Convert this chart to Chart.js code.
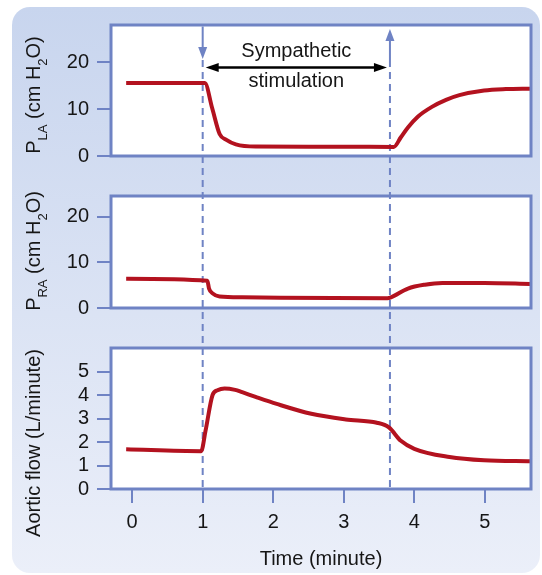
<!DOCTYPE html>
<html lang="en">
<head>
<meta charset="UTF-8">
<title>Sympathetic stimulation</title>
<script src="https://cdn.jsdelivr.net/npm/chart.js"></script>
<style>
  body { margin: 0; background: #fff; }
  .figure { position: relative; width: 542px; height: 575px; overflow: hidden; }
  .figure-bg {
    position: absolute; left: 12px; top: 7px; width: 528px; height: 566px;
    border-radius: 18px;
    background: linear-gradient(#c8d5ee, #ebeff9);
  }
  canvas { position: absolute; left: 0; }
</style>
</head>
<body>
<div class="figure">
  <div class="figure-bg"></div>
  <canvas id="laChart" width="542" height="176" style="top:0px"></canvas>
  <canvas id="raChart" width="542" height="152" style="top:176px"></canvas>
  <canvas id="flowChart" width="542" height="247" style="top:328px"></canvas>
</div>
<script>
// time axis, minutes
const timeMin = -0.3;
const timeMax = 5.655;
const timeTicks = [0, 1, 2, 3, 4, 5];
const stimStart = 1;
const stimEnd = 3.655;

// left atrial pressure (cm H2O)
const laTime   = [-0.085, 1.03, 1.135, 1.24, 1.33, 1.47, 1.75, 2.5, 3.0, 3.71, 3.81, 3.91, 4.05, 4.25, 4.45, 4.64, 4.99, 5.3, 5.65];
const laValues = [15.6, 15.6, 10.2, 4.7, 3.5, 2.5, 2.03, 2.0, 2.0, 1.95, 4.0, 6.1, 8.4, 10.5, 12.0, 13.0, 14.0, 14.3, 14.4];
const laTicks = [0, 10, 20];

// right atrial pressure (cm H2O)
const raTime   = [-0.085, 1.066, 1.09, 1.14, 1.24, 1.56, 3.62, 3.66, 3.91, 4.15, 4.4, 4.99, 5.65];
const raValues = [6.4, 5.96, 4.26, 3.2, 2.5, 2.34, 2.13, 2.26, 4.26, 5.1, 5.46, 5.46, 5.25];
const raTicks = [0, 10, 20];

// aortic flow (L/minute)
const flowTime   = [-0.085, 0.978, 1.04, 1.14, 1.21, 1.31, 1.46, 1.56, 1.75, 2.05, 2.54, 3.03, 3.47, 3.64, 3.81, 4.0, 4.5, 4.99, 5.65];
const flowValues = [1.69, 1.61, 2.47, 4.0, 4.2, 4.28, 4.22, 4.12, 3.92, 3.62, 3.2, 2.96, 2.82, 2.62, 2.05, 1.71, 1.36, 1.22, 1.18];
const flowTicks = [0, 1, 2, 3, 4, 5];

const BLUE = '#6f83c4';
const RED = '#b3121f';
const INK = '#161616';
const FONT = '"Liberation Sans", Arial, sans-serif';
const DASH = [7, 5];

function dashedLine(ctx, x, y0, y1, canvasTop) {
  ctx.save();
  ctx.strokeStyle = BLUE;
  ctx.lineWidth = 2;
  ctx.setLineDash(DASH);
  // keep the dash pattern continuous from one canvas to the next
  ctx.lineDashOffset = (canvasTop + y0) % (DASH[0] + DASH[1]);
  ctx.beginPath();
  ctx.moveTo(x, y0);
  ctx.lineTo(x, y1);
  ctx.stroke();
  ctx.restore();
}

function arrowHead(ctx, x, y, dx, dy, len, half) {
  // tip at (x, y), pointing along (dx, dy)
  ctx.beginPath();
  ctx.moveTo(x, y);
  ctx.lineTo(x - dx * len - dy * half, y - dy * len - dx * half);
  ctx.lineTo(x - dx * len + dy * half, y - dy * len + dx * half);
  ctx.closePath();
  ctx.fill();
}

function rotatedTitle(ctx, parts, x, cy) {
  ctx.save();
  let total = 0;
  parts.forEach(p => {
    ctx.font = (p.sub ? '13px ' : '20px ') + FONT;
    p.w = ctx.measureText(p.text).width;
    total += p.w;
  });
  ctx.translate(x, cy);
  ctx.rotate(-Math.PI / 2);
  ctx.fillStyle = INK;
  ctx.textBaseline = 'alphabetic';
  let pos = -total / 2;
  parts.forEach(p => {
    ctx.font = (p.sub ? '13px ' : '20px ') + FONT;
    ctx.fillText(p.text, pos, p.sub ? 7 : 0);
    pos += p.w;
  });
  ctx.restore();
}

function panelPlugin(cfg) {
  return {
    id: 'panel',
    beforeDraw(chart) {
      const a = chart.chartArea;
      chart.ctx.save();
      chart.ctx.fillStyle = '#fff';
      chart.ctx.fillRect(a.left, a.top, a.right - a.left, a.bottom - a.top);
      chart.ctx.restore();
    },
    beforeDatasetsDraw(chart) {
      const ctx = chart.ctx;
      const xs = chart.scales.x;
      const x1 = xs.getPixelForValue(stimStart);
      const x2 = xs.getPixelForValue(stimEnd);
      const top = cfg.canvasTop;
      const bottom = cfg.lineToArea ? chart.chartArea.bottom : chart.height;
      if (cfg.arrows) {
        const a = chart.chartArea;
        ctx.save();
        ctx.strokeStyle = BLUE;
        ctx.fillStyle = BLUE;
        ctx.lineWidth = 2;
        // stimulation on: arrow pointing down
        ctx.beginPath();
        ctx.moveTo(x1, a.top + 1.5);
        ctx.lineTo(x1, 50);
        ctx.stroke();
        arrowHead(ctx, x1, 59, 0, 1, 12, 4.5);
        // stimulation off: arrow pointing up
        ctx.beginPath();
        ctx.moveTo(x2, 40);
        ctx.lineTo(x2, 67);
        ctx.stroke();
        arrowHead(ctx, x2, 29, 0, -1, 12, 4.5);
        ctx.restore();
        dashedLine(ctx, x1, 60, bottom, top);
        dashedLine(ctx, x2, 67, bottom, top);
      } else {
        dashedLine(ctx, x1, 0, bottom, top);
        dashedLine(ctx, x2, 0, bottom, top);
      }
    },
    afterDatasetsDraw(chart) {
      const ctx = chart.ctx;
      const a = chart.chartArea;
      ctx.save();
      ctx.strokeStyle = BLUE;
      ctx.lineWidth = 3;
      ctx.strokeRect(a.left, a.top, a.right - a.left, a.bottom - a.top);
      ctx.restore();

      rotatedTitle(ctx, cfg.title, 39.5, cfg.titleCenter);

      if (cfg.arrows) {
        const xs = chart.scales.x;
        const x1 = xs.getPixelForValue(stimStart);
        const x2 = xs.getPixelForValue(stimEnd);
        const mid = (x1 + x2) / 2;
        ctx.save();
        ctx.fillStyle = INK;
        ctx.strokeStyle = '#000';
        ctx.font = '20px ' + FONT;
        ctx.textAlign = 'center';
        ctx.textBaseline = 'alphabetic';
        ctx.fillText('Sympathetic', mid, 57);
        ctx.fillText('stimulation', mid, 87);
        ctx.lineWidth = 2.5;
        ctx.beginPath();
        ctx.moveTo(x1 + 12, 67.5);
        ctx.lineTo(x2 - 12, 67.5);
        ctx.stroke();
        ctx.fillStyle = '#000';
        arrowHead(ctx, x1 + 3, 67.5, -1, 0, 13, 4.5);
        arrowHead(ctx, x2 - 3, 67.5, 1, 0, 13, 4.5);
        ctx.restore();
      }
      if (cfg.xTitle) {
        ctx.save();
        ctx.fillStyle = INK;
        ctx.font = '20px ' + FONT;
        ctx.textAlign = 'center';
        ctx.textBaseline = 'alphabetic';
        ctx.fillText(cfg.xTitle, (a.left + a.right) / 2, 237);
        ctx.restore();
      }
    }
  };
}

function makeChart(id, cfg) {
  return new Chart(document.getElementById(id), {
    type: 'line',
    data: {
      datasets: [{
        data: cfg.time.map((t, i) => ({ x: t, y: cfg.values[i] })),
        borderColor: RED,
        borderWidth: 4,
        pointRadius: 0,
        cubicInterpolationMode: 'monotone',
        borderJoinStyle: 'round'
      }]
    },
    options: {
      responsive: false,
      animation: false,
      events: [],
      layout: { padding: cfg.padding },
      plugins: { legend: { display: false }, tooltip: { enabled: false } },
      scales: {
        x: {
          type: 'linear',
          min: timeMin,
          max: timeMax,
          display: cfg.showX,
          afterBuildTicks: s => { s.ticks = timeTicks.map(v => ({ value: v })); },
          afterFit: s => { s.height = cfg.showX ? 40 : 0; },
          grid: { drawOnChartArea: false, tickLength: 14, color: BLUE, lineWidth: 2 },
          border: { display: false },
          ticks: { autoSkip: false, maxRotation: 0, color: INK, font: { family: FONT, size: 20 }, padding: 7 }
        },
        y: {
          type: 'linear',
          min: 0,
          max: cfg.yMax,
          afterBuildTicks: s => { s.ticks = cfg.ticks.map(v => ({ value: v })); },
          afterFit: s => { s.width = 45; },
          grid: { drawOnChartArea: false, tickLength: 14, color: BLUE, lineWidth: 2 },
          border: { display: false },
          ticks: { autoSkip: false, color: INK, font: { family: FONT, size: 20 }, padding: 8 }
        }
      }
    },
    plugins: [panelPlugin(cfg)]
  });
}

makeChart('laChart', {
  time: laTime, values: laValues, ticks: laTicks, yMax: 28,
  padding: { left: 66, right: 11, top: 25, bottom: 19 },
  canvasTop: 0, arrows: true, showX: false,
  title: [{ text: 'P' }, { text: 'LA', sub: true }, { text: ' (cm H' }, { text: '2', sub: true }, { text: 'O)' }],
  titleCenter: 95
});

makeChart('raChart', {
  time: raTime, values: raValues, ticks: raTicks, yMax: 24.5,
  padding: { left: 66, right: 11, top: 19, bottom: 18 },
  canvasTop: 176, showX: false,
  title: [{ text: 'P' }, { text: 'RA', sub: true }, { text: ' (cm H' }, { text: '2', sub: true }, { text: 'O)' }],
  titleCenter: 75
});

makeChart('flowChart', {
  time: flowTime, values: flowValues, ticks: flowTicks, yMax: 6,
  padding: { left: 66, right: 11, top: 18, bottom: 46 },
  canvasTop: 328, showX: true, lineToArea: true,
  title: [{ text: 'Aortic flow (L/minute)' }],
  titleCenter: 115,
  xTitle: 'Time (minute)'
});
</script>
</body>
</html>
